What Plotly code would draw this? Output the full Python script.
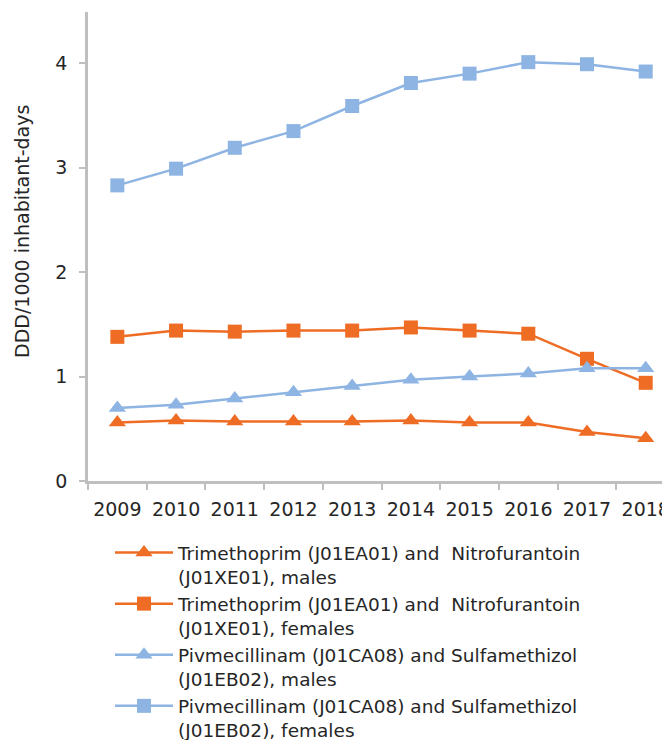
import plotly.graph_objects as go

years = ["2009", "2010", "2011", "2012", "2013", "2014", "2015", "2016", "2017", "2018"]

trim_males = [0.56, 0.58, 0.57, 0.57, 0.57, 0.58, 0.56, 0.56, 0.47, 0.41]
trim_females = [1.38, 1.44, 1.43, 1.44, 1.44, 1.47, 1.44, 1.41, 1.17, 0.94]
piv_males = [0.70, 0.73, 0.79, 0.85, 0.91, 0.97, 1.00, 1.03, 1.08, 1.08]
piv_females = [2.83, 2.99, 3.19, 3.35, 3.59, 3.81, 3.90, 4.01, 3.99, 3.92]

names = [
    "Trimethoprim (J01EA01) and  Nitrofurantoin<br>(J01XE01), males",
    "Trimethoprim (J01EA01) and  Nitrofurantoin<br>(J01XE01), females",
    "Pivmecillinam (J01CA08) and Sulfamethizol<br>(J01EB02), males",
    "Pivmecillinam (J01CA08) and Sulfamethizol<br>(J01EB02), females",
]

ORANGE = "#EE6C23"
BLUE = "#8DB4E2"

series = [
    (trim_males, ORANGE, "triangle-up", 15),
    (trim_females, ORANGE, "square", 14),
    (piv_males, BLUE, "triangle-up", 15),
    (piv_females, BLUE, "square", 14),
]

fig = go.Figure()
for (vals, col, sym, sz), nm in zip(series, names):
    fig.add_trace(go.Scatter(
        x=years, y=vals, name=nm, mode="lines+markers",
        line=dict(color=col, width=2.5),
        marker=dict(symbol=sym, size=sz, color=col),
        cliponaxis=False,
    ))

# the page body adds an 8px offset; positions below compensate for it
FONT = "DejaVu Sans, Liberation Sans, Arial, sans-serif"
TXT = "#262626"
fig.update_layout(
    width=670, height=740,
    margin=dict(l=80, r=0, t=4, b=267, autoexpand=False),
    paper_bgcolor="white", plot_bgcolor="white",
    font=dict(family=FONT, size=20, color=TXT),
    showlegend=True,
    legend=dict(
        xref="container", yref="container",
        x=102 / 670, y=1 - 526 / 740, xanchor="left", yanchor="top",
        font=dict(size=18.5, color=TXT),
        itemwidth=58, valign="top", tracegroupgap=0,
        bgcolor="rgba(0,0,0,0)",
    ),
    xaxis=dict(
        type="category", range=[-0.5, 9.55], automargin=False,
        showline=True, linecolor="#BFBFBF", linewidth=2.5,
        ticks="outside", tickson="boundaries", ticklen=6, tickwidth=2,
        tickcolor="#BFBFBF", showgrid=False, zeroline=False,
        tickangle=0,
        tickfont=dict(size=19, color=TXT),
        ticklabelstandoff=9,
    ),
    yaxis=dict(
        range=[0, 4.49], tickvals=[0, 1, 2, 3, 4], automargin=False,
        showline=True, linecolor="#BFBFBF", linewidth=2.5,
        ticks="outside", ticklen=6, tickwidth=2, tickcolor="#BFBFBF",
        showgrid=False, zeroline=False,
        tickfont=dict(size=19, color=TXT),
        ticklabelstandoff=8,
    ),
    annotations=[dict(
        text="DDD/1000 inhabitant-days", textangle=-90,
        xref="paper", yref="paper", x=-0.112, y=0.533,
        xanchor="center", yanchor="middle", showarrow=False,
        font=dict(size=19, color=TXT),
    )],
)

fig.write_html("out.html")
